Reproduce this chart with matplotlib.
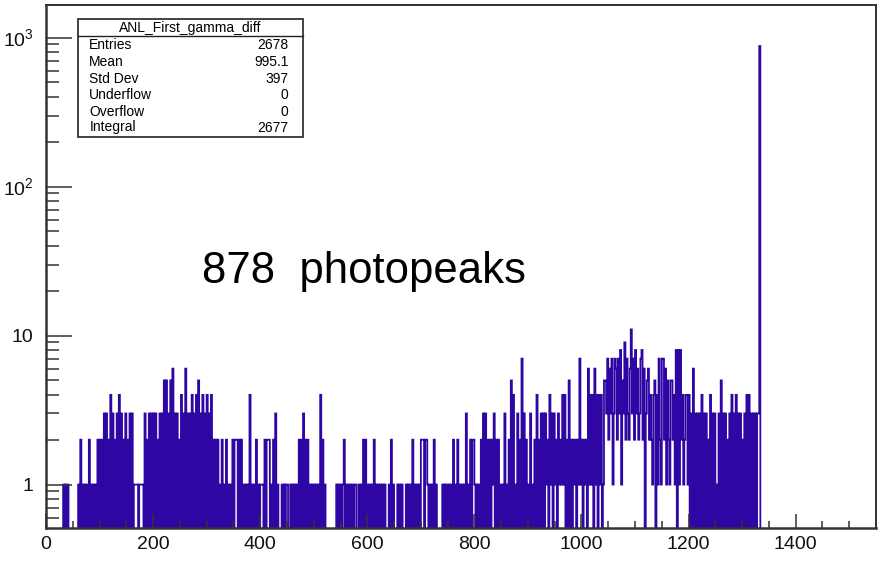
import numpy as np
import matplotlib.pyplot as plt
from matplotlib.patches import Rectangle
from matplotlib.lines import Line2D
from matplotlib.ticker import FixedLocator, FixedFormatter, MultipleLocator, NullFormatter

plt.rcParams['font.family'] = ['Liberation Sans', 'DejaVu Sans']
plt.rcParams['mathtext.fontset'] = 'custom'
plt.rcParams['mathtext.rm'] = 'Liberation Sans'
plt.rcParams['mathtext.it'] = 'Liberation Sans:italic'
# keep every bin edge of the dense histogram
plt.rcParams['path.simplify'] = False

#%% bin contents, 2 keV bins from 28 keV, one hex digit per bin (a=10, b=11)
bins_0028 = "00101010000000001020101010201010102020203030204030"
bins_0128 = "20304030203020303011110111103020303030302030305050"
bins_0228 = "30506030302040306030304030405030403040304020202010"
bins_0328 = "20102010102022202020101010401010201011102022201020"
bins_0428 = "30100010101100101010102020302020101010101040201000"
bins_0528 = "00000001010101201010101011001010202010101020101010"
bins_0628 = "10100010201000101010001010102010101022202210101020"
bins_0728 = "10000010101010102010201010103010202210101020303020"
bins_0828 = "20213020201010301020504010302070302010301020402030"
bins_0928 = "30312041303120312141402050202120217120212061414061"
bins_1028 = "40414015537263713762738153927326b37283623782603562"
bins_1128 = "42145041721772615215524180818241244140306030303040"
bins_1228 = "3030204030301030503030203040304030302030404030303033"
peak_count = 878

stats_labels = ['Entries', 'Mean', 'Std Dev', 'Underflow', 'Overflow', 'Integral']
stats_values = ['2678', '995.1', '397', '0', '0', '2677']
hist_name = 'ANL_First_gamma_diff'

digits = (bins_0028 + bins_0128 + bins_0228 + bins_0328 + bins_0428 + bins_0528
          + bins_0628 + bins_0728 + bins_0828 + bins_0928 + bins_1028 + bins_1128 + bins_1228)
counts = np.array([int(c, 16) for c in digits] + [peak_count, 0], dtype=float)
edges = np.concatenate([np.arange(28, 1333, 2), [1334, 1550]])

#%%
fig = plt.figure(figsize=(8.8, 5.63), dpi=100)
W, H = 880.0, 563.0
ax = fig.add_axes([46 / W, 35 / H, 830 / W, 523 / H])

# empty bins drop out of the log axis, like ROOT does
draw_vals = np.where(counts > 0, counts, 1e-3)
st = ax.stairs(draw_vals, edges, baseline=None, color='#2e06a4', lw=1.3)
st.set_snap(False)

ax.set_yscale('log')
ax.set_xlim(0, 1550)
ax.set_ylim(0.511, 1656)

ax.xaxis.set_major_locator(MultipleLocator(200))
ax.xaxis.set_minor_locator(MultipleLocator(50))
ax.yaxis.set_major_locator(FixedLocator([1, 10, 100, 1000]))
ax.yaxis.set_major_formatter(FixedFormatter(['1', '10', r'$10^{2}$', r'$10^{3}$']))
minor_y = [m * 10.0 ** e for e in range(-1, 4) for m in range(2, 10)]
ax.yaxis.set_minor_locator(FixedLocator(minor_y))
ax.yaxis.set_minor_formatter(NullFormatter())

ax.tick_params(axis='both', which='both', direction='in', color='#333333', width=1.1,
               top=False, right=False, labelsize=14, labelcolor='#111111')
ax.tick_params(axis='x', which='major', length=10, pad=6)
ax.tick_params(axis='x', which='minor', length=5)
ax.tick_params(axis='y', which='major', length=19, pad=9)
ax.tick_params(axis='y', which='minor', length=9.5)
for s in ax.spines.values():
    s.set_color('#333333')
    s.set_linewidth(1.4)
ax.spines['left'].set_linewidth(1.8)
ax.spines['bottom'].set_linewidth(1.8)

ax.text(0.1875, 0.468, '878  photopeaks', transform=ax.transAxes, fontsize=31.5,
        ha='left', va='baseline', color='black')

#%% stats box
def fx(x):
    return x / W

def fy(y):
    return 1 - y / H

fig.add_artist(Rectangle((fx(78.3), fy(137.3)), fx(302.7) - fx(78.3), fy(19.3) - fy(137.3),
                         transform=fig.transFigure, facecolor='white', edgecolor='#222222',
                         lw=1.2, zorder=5))
fig.add_artist(Line2D([fx(78.3), fx(302.7)], [fy(35.7), fy(35.7)], transform=fig.transFigure,
                      color='#222222', lw=1.0, zorder=6))
fig.text(fx(190.5), fy(27.8), hist_name, fontsize=10, ha='center', va='center', zorder=7)
row_y = [45, 62.3, 79.0, 95.5, 111.5, 127.5]
for lab, val, yy in zip(stats_labels, stats_values, row_y):
    fig.text(fx(89.3), fy(yy), lab, fontsize=10, ha='left', va='center', zorder=7)
    fig.text(fx(288.3), fy(yy), val, fontsize=10, ha='right', va='center', zorder=7)

plt.savefig('out.png', dpi=100)
plt.close()
